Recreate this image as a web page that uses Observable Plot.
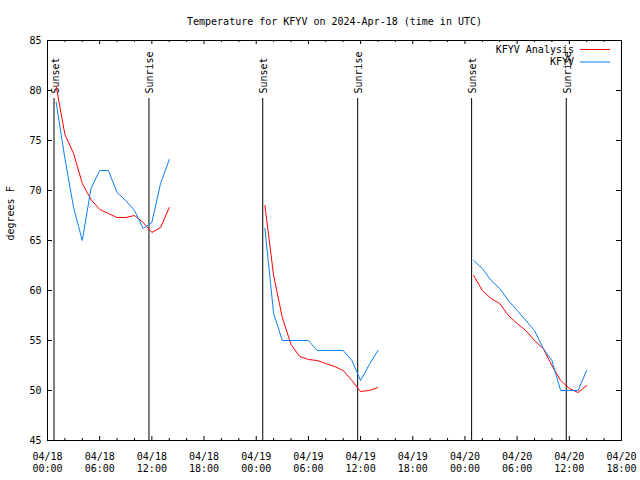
<!DOCTYPE html>
<html>
<head>
<meta charset="utf-8">
<script src="https://cdn.jsdelivr.net/npm/d3@7"></script>
<script src="https://cdn.jsdelivr.net/npm/@observablehq/plot@0.6"></script>
<style>
  html, body { margin: 0; padding: 0; background: #ffffff; }
  #chart svg { display: block; }
</style>
</head>
<body>
<div id="chart"></div>
<script>
// ---------- data ----------
const titleText = "Temperature for KFYV on 2024-Apr-18 (time in UTC)";
const yLabel = "degrees F";
const seriesNames = ["KFYV Analysis", "KFYV"];
const seriesColors = ["#ff0000", "#0a80f0"];

// each segment is hourly, starting at these times
const segmentStarts = ["2024-04-18T01:00Z", "2024-04-19T01:00Z", "2024-04-20T01:00Z"];

const analysisValues = [
  [80.4, 75.6, 73.7, 70.7, 69.1, 68.1, 67.7, 67.3, 67.3, 67.5, 66.8, 65.8, 66.3, 68.3],
  [68.5, 61.5, 57.3, 54.6, 53.4, 53.1, 53.0, 52.7, 52.4, 52.0, 51.0, 49.9, 50.0, 50.3],
  [61.5, 60.0, 59.2, 58.7, 57.5, 56.7, 56.0, 55.0, 54.2, 52.5, 51.0, 50.2, 49.8, 50.5]
];
const observedValues = [
  [78.8, 73.2, 68.3, 65.0, 70.2, 72.0, 72.0, 69.8, 69.0, 68.0, 66.2, 66.8, 70.7, 73.1],
  [66.2, 57.7, 55.0, 55.0, 55.0, 55.0, 54.0, 54.0, 54.0, 54.0, 53.0, 51.0, 52.6, 54.0],
  [63.0, 62.2, 61.0, 60.2, 59.0, 58.0, 57.0, 56.0, 54.2, 53.0, 50.0, 50.0, 50.0, 52.0]
];

const eventLabels = ["Sunset", "Sunrise", "Sunset", "Sunrise", "Sunset", "Sunrise"];
const eventTimes = ["2024-04-18T00:45Z", "2024-04-18T11:40Z", "2024-04-19T00:45Z",
                    "2024-04-19T11:40Z", "2024-04-20T00:46Z", "2024-04-20T11:39Z"];

const xDomain = ["2024-04-18T00:00Z", "2024-04-20T18:00Z"];
const yDomain = [45, 85];
const yTicks = [45, 50, 55, 60, 65, 70, 75, 80, 85];
const majorTickHours = 6;
const minorTickHours = 2;

// ---------- build tables ----------
const rows = [];
[analysisValues, observedValues].forEach((series, s) => {
  series.forEach((seg, k) => {
    const t0 = new Date(segmentStarts[k]).getTime();
    seg.forEach((v, i) => {
      rows.push({series: seriesNames[s], seg: k, time: new Date(t0 + i * 3600e3), temp: v});
    });
  });
});
const events = eventLabels.map((label, i) => ({label, time: new Date(eventTimes[i])}));
const x0 = new Date(xDomain[0]), x1 = new Date(xDomain[1]);
const majorTicks = d3.utcHour.every(majorTickHours).range(x0, new Date(+x1 + 1));
const minorTicks = d3.utcHour.every(minorTickHours).range(x0, new Date(+x1 + 1))
  .filter(d => d.getUTCHours() % majorTickHours !== 0);

// ---------- layout ----------
const W = 640, H = 480;
const mL = 47, mR = 19, mT = 40, mB = 40;
const fw = W - mL - mR, fh = H - mT - mB;
const mono = "DejaVu Sans Mono";

const chart = Plot.plot({
  width: W,
  height: H,
  marginLeft: mL,
  marginRight: mR,
  marginTop: mT,
  marginBottom: mB,
  style: {fontFamily: mono, fontSize: "10px", background: "#ffffff", color: "#000000"},
  x: {type: "utc", domain: [x0, x1]},
  y: {domain: yDomain},
  color: {domain: seriesNames, range: seriesColors},
  marks: [
    // ticks (inward, gnuplot style) on all four sides
    Plot.tickX(minorTicks, {x: d => d, insetTop: fh - 2, stroke: "#000"}),
    Plot.tickX(minorTicks, {x: d => d, insetBottom: fh - 2, stroke: "#000"}),
    Plot.tickX(majorTicks, {x: d => d, insetTop: fh - 4, stroke: "#000"}),
    Plot.tickX(majorTicks, {x: d => d, insetBottom: fh - 4, stroke: "#000"}),
    Plot.tickY(yTicks, {y: d => d, insetRight: fw - 5, stroke: "#000"}),
    Plot.tickY(yTicks, {y: d => d, insetLeft: fw - 5, stroke: "#000"}),
    Plot.axisX({
      ticks: majorTicks, tickSize: 0, tickPadding: 11, label: null,
      tickFormat: d3.utcFormat("%m/%d\n%H:%M"), lineHeight: 1.2, fontFamily: mono
    }),
    Plot.axisY({ticks: yTicks, tickSize: 0, tickPadding: 6, label: null, fontFamily: mono}),
    // sunrise / sunset markers
    Plot.ruleX(events, {x: "time", insetTop: 58, stroke: "#000"}),
    Plot.text(events, {
      x: "time", text: "label", frameAnchor: "top", dy: 53, dx: 4.5,
      rotate: -90, textAnchor: "start", lineAnchor: "bottom", fill: "#000"
    }),
    // data lines
    Plot.line(rows, {x: "time", y: "temp", z: d => d.series + d.seg, stroke: "series", strokeWidth: 1}),
    Plot.frame({stroke: "#000"}),
    // title and y label
    Plot.text([titleText], {frameAnchor: "top", dy: -16, lineAnchor: "bottom", fill: "#000"}),
    Plot.text([yLabel], {
      frameAnchor: "left", rotate: -90, dx: -34, lineAnchor: "bottom",
      fontFamily: mono, fontSize: 10, fill: "#000"
    })
  ]
});

// legend (top-right inside frame)
const svg = d3.select(chart);
const lg = svg.append("g").attr("font-family", mono).attr("font-size", 10);
const right = W - mR;
seriesNames.forEach((name, i) => {
  const y = mT + 9.5 + i * 12.5;
  lg.append("text").attr("x", right - 47).attr("y", y).attr("dy", "0.32em")
    .attr("text-anchor", "end").attr("fill", "#000").text(name);
  lg.append("line").attr("x1", right - 41).attr("x2", right - 11)
    .attr("y1", y).attr("y2", y).attr("stroke", seriesColors[i]).attr("stroke-width", 1);
});

document.getElementById("chart").appendChild(chart);
</script>
</body>
</html>
